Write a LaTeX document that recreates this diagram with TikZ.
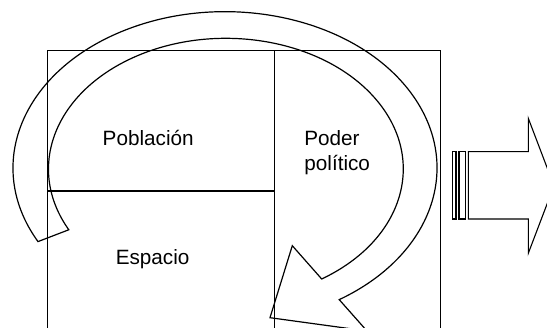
\documentclass[tikz,border=0pt]{standalone}
\usepackage{fontspec}
\setmainfont{Liberation Sans}
\begin{document}
\begin{tikzpicture}[x=1pt,y=1pt,line join=miter,
  frame/.style={draw=black,line width=1pt},
  divider/.style={draw=black,line width=1.6pt},
  bigarrow/.style={draw=black,line width=1.2pt},
  blockarrow/.style={draw=black,line width=1.1pt},
  lbl/.style={inner sep=0pt,font=\fontsize{20.7}{24}\selectfont}]
\useasboundingbox (0,0) rectangle (547,328);
\clip (0,0) rectangle (547,328);
% frame and dividers
\draw[frame] (47.5,-10) -- (47.5,277) -- (440,277) -- (440,-10);
\draw[divider] (274.5,277) -- (274.5,-10);
\draw[divider] (47.5,136.7) -- (274.5,136.7);
% curved arrow
\draw[bigarrow] (38.0,86.4) arc[start angle=208.1, end angle=-57.4, x radius=212, y radius=156.3]
  -- (367,-3) -- (270,10.3) -- (292.3,82.3) -- (321.7,49.0)
  arc[start angle=-57.3, end angle=207.7, x radius=177.4, y radius=130.7] -- cycle;
% striped block arrow
\draw[blockarrow] (452.7,109) rectangle (456,176.3);
\draw[blockarrow] (459,109) rectangle (465.7,176.3);
\draw[blockarrow] (468.3,109) -- (528.3,109) -- (528.3,74.7) -- (554,142.2) -- (528.3,209.7) -- (528.3,176.3) -- (468.3,176.3) -- cycle;
% labels
\node[lbl,anchor=base] (pob) at (148.2,182.7) {Población};
\node[lbl,anchor=base west] (pod) at (304.2,182.5) {Poder};
\node[lbl,anchor=base west] (pol) at (304.2,157) {político};
\node[lbl,anchor=base] (esp) at (152.6,63) {Espacio};
\end{tikzpicture}
\end{document}
